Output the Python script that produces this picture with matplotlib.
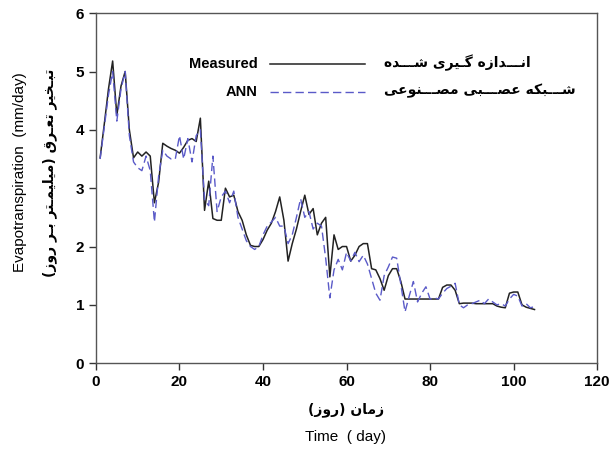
import numpy as np
import matplotlib
matplotlib.use("Agg")
import matplotlib.pyplot as plt

# daily values
days = np.arange(1, 106)
measured = [3.52, 4.1, 4.7, 5.18, 4.25, 4.75, 5.0, 4.0, 3.52, 3.62,
            3.55, 3.62, 3.55, 2.75, 3.1, 3.77, 3.72, 3.68, 3.65, 3.6,
            3.7, 3.82, 3.85, 3.8, 4.2, 2.62, 3.12, 2.48, 2.45, 2.45,
            3.0, 2.85, 2.88, 2.6, 2.45, 2.2, 2.02, 2.0, 2.0, 2.12,
            2.28, 2.4, 2.6, 2.85, 2.45, 1.75, 2.05, 2.3, 2.6, 2.88,
            2.55, 2.65, 2.2, 2.4, 2.5, 1.48, 2.2, 1.95, 2.0, 2.0,
            1.75, 1.85, 2.0, 2.05, 2.05, 1.62, 1.6, 1.45, 1.25, 1.5,
            1.62, 1.62, 1.4, 1.1, 1.1, 1.1, 1.1, 1.1, 1.1, 1.1,
            1.1, 1.1, 1.3, 1.34, 1.34, 1.25, 1.02, 1.03, 1.03, 1.03,
            1.02, 1.02, 1.02, 1.02, 1.02, 0.98, 0.96, 0.95, 1.2, 1.22,
            1.22, 1.0, 0.96, 0.94, 0.92]
ann = [3.5, 4.05, 4.6, 5.0, 4.15, 4.7, 5.0, 3.9, 3.45, 3.35,
       3.3, 3.55, 3.3, 2.42, 3.2, 3.65, 3.55, 3.5, 3.5, 3.9,
       3.5, 3.85, 3.45, 3.9, 4.0, 2.8, 2.7, 3.55, 2.6, 2.85,
       2.95, 2.75, 2.95, 2.5, 2.3, 2.1, 2.0, 1.95, 2.0, 2.2,
       2.35, 2.42, 2.5, 2.35, 2.35, 2.05, 2.2, 2.5, 2.82, 2.5,
       2.6, 2.3, 2.4, 2.35, 1.8, 1.12, 1.6, 1.78, 1.6, 1.9,
       1.75, 1.9, 1.74, 1.85, 1.7, 1.45, 1.2, 1.08, 1.5, 1.65,
       1.82, 1.8, 1.35, 0.88, 1.15, 1.4, 1.05, 1.2, 1.31, 1.1,
       1.12, 1.1, 1.2, 1.28, 1.32, 1.37, 1.0, 0.95, 1.0, 1.02,
       1.05, 1.08, 1.02, 1.1, 1.05, 1.0, 1.02, 0.98, 1.1, 1.18,
       1.15, 0.98, 1.02, 0.95, 0.97]

xticks = [0, 20, 40, 60, 80, 100, 120]
yticks = [0, 1, 2, 3, 4, 5, 6]

lbl_measured = "Measured"
lbl_ann = "ANN"
fa_measured = "انـــدازه گـیری شـــده"
fa_ann = "شـــبکه عصـــبی مصـــنوعی"
fa_ylabel = "تبـخیر تعـرق (میلیمـتر بـر روز)"
fa_xlabel = "زمان (روز)"


# --- tiny persian shaper (matplotlib has no bidi / joining) ---
FORMS = {  # isolated, final, initial, medial
    'ا': (0xFE8D, 0xFE8E), 'د': (0xFEA9, 0xFEAA), 'ذ': (0xFEAB, 0xFEAC),
    'ر': (0xFEAD, 0xFEAE), 'ز': (0xFEAF, 0xFEB0), 'و': (0xFEED, 0xFEEE),
    'ب': (0xFE8F, 0xFE90, 0xFE91, 0xFE92), 'ت': (0xFE95, 0xFE96, 0xFE97, 0xFE98),
    'خ': (0xFEA5, 0xFEA6, 0xFEA7, 0xFEA8), 'ش': (0xFEB5, 0xFEB6, 0xFEB7, 0xFEB8),
    'ص': (0xFEB9, 0xFEBA, 0xFEBB, 0xFEBC), 'ع': (0xFEC9, 0xFECA, 0xFECB, 0xFECC),
    'ق': (0xFED5, 0xFED6, 0xFED7, 0xFED8), 'ل': (0xFEDD, 0xFEDE, 0xFEDF, 0xFEE0),
    'م': (0xFEE1, 0xFEE2, 0xFEE3, 0xFEE4), 'ن': (0xFEE5, 0xFEE6, 0xFEE7, 0xFEE8),
    'ه': (0xFEE9, 0xFEEA, 0xFEEB, 0xFEEC), 'ی': (0xFBFC, 0xFBFD, 0xFBFE, 0xFBFF),
    'ک': (0xFB8E, 0xFB8F, 0xFB90, 0xFB91), 'گ': (0xFB92, 0xFB93, 0xFB94, 0xFB95),
    'ـ': (0x640, 0x640, 0x640, 0x640),
}


def shape(s):
    out = []
    for i, c in enumerate(s):
        if c not in FORMS:
            out.append({'(': ')', ')': '('}.get(c, c))
            continue
        f = FORMS[c]
        prev = s[i - 1] if i > 0 else ''
        nxt = s[i + 1] if i + 1 < len(s) else ''
        join_prev = prev in FORMS and len(FORMS[prev]) == 4
        join_next = len(f) == 4 and nxt in FORMS
        if join_prev and join_next:
            k = 3
        elif join_prev:
            k = 1
        elif join_next:
            k = 2
        else:
            k = 0
        out.append(chr(f[k]))
    return ''.join(reversed(out))


plt.rcParams['font.family'] = ['Liberation Sans', 'DejaVu Sans']

fig = plt.figure(figsize=(6.15, 4.54), dpi=100)
ax = fig.add_axes([0.156, 0.200, 0.815, 0.771])

ax.plot(days, measured, color='#222222', lw=1.1)
ax.plot(days, ann, color='#5a5ac8', lw=1.0, dashes=(6, 3))

ax.set_xlim(0, 120)
ax.set_ylim(0, 6)
ax.set_xticks(xticks)
ax.set_yticks(yticks)
ax.tick_params(direction='out', length=5, width=1, colors='#333333',
               labelsize=11, labelcolor='black')
for t in ax.get_xticklabels() + ax.get_yticklabels():
    t.set_fontweight('bold')
for sp in ax.spines.values():
    sp.set_color('#555555')
    sp.set_linewidth(1.0)

# legend as in the original: english label, sample line, persian label
ax.text(0.323, 0.854, lbl_measured, transform=ax.transAxes, ha='right',
        va='center', fontsize=10.5, fontweight='bold')
ax.text(0.323, 0.774, lbl_ann, transform=ax.transAxes, ha='right',
        va='center', fontsize=10.5, fontweight='bold')
ax.plot([0.347, 0.537], [0.854, 0.854], transform=ax.transAxes,
        color='#222222', lw=1.1)
ax.plot([0.347, 0.537], [0.774, 0.774], transform=ax.transAxes,
        color='#5a5ac8', lw=1.0, dashes=(6, 3))
ax.text(0.574, 0.857, shape(fa_measured), transform=ax.transAxes, ha='left',
        va='center', fontsize=10, fontweight='bold', family='DejaVu Sans')
ax.text(0.574, 0.777, shape(fa_ann), transform=ax.transAxes, ha='left',
        va='center', fontsize=10, fontweight='bold', family='DejaVu Sans')

fig.text(0.033, 0.62, "Evapotranspiration  (mm/day)", rotation=90,
         ha='center', va='center', fontsize=11)
fig.text(0.080, 0.62, shape(fa_ylabel), rotation=90, ha='center',
         va='center', fontsize=10, fontweight='bold', family='DejaVu Sans')
fig.text(0.562, 0.097, shape(fa_xlabel), ha='center', va='center',
         fontsize=10, fontweight='bold', family='DejaVu Sans')
fig.text(0.562, 0.037, "Time  ( day)", ha='center', va='center', fontsize=11)

fig.savefig('out.png', dpi=100)
